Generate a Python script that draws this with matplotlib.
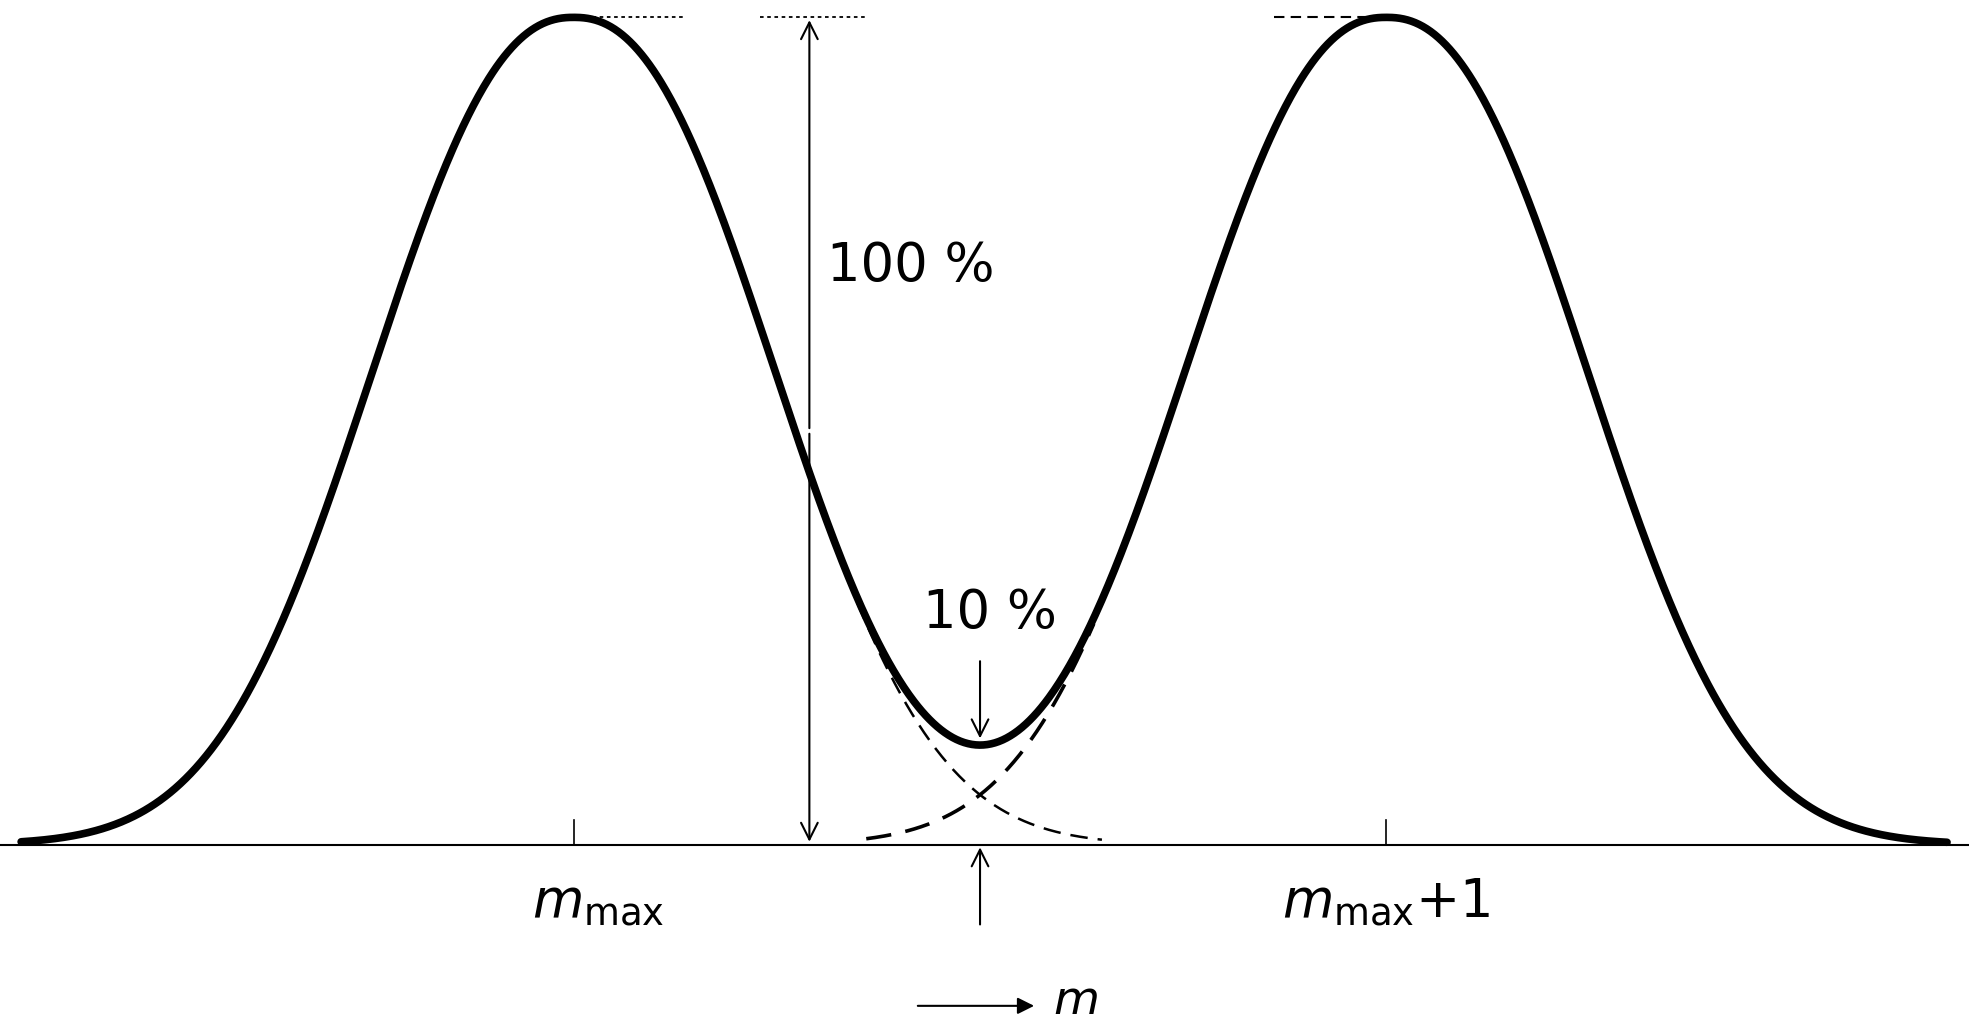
import numpy as np
import matplotlib
matplotlib.use("Agg")
import matplotlib.pyplot as plt

# Diagram parameters (in units of m, peak height = 1)
peak_centers = [0.0, 1.0]
peak_width = 0.319
peak_power = 2.3
tick_labels = [r"$m_{\rm max}$", r"$m_{\rm max}$+1"]
valley_label = "10 %"
full_label = "100 %"

plt.rcParams['font.family'] = ['DejaVu Sans']
plt.rcParams['mathtext.fontset'] = 'dejavusans'
fig = plt.figure(figsize=(19.69, 10.29), dpi=100)
ax = fig.add_axes([0, 0, 1, 1])
ax.set_xlim(-0.706, 1.717)
ax.set_ylim(-0.223, 1.021)
ax.axis('off')

def g(x, c):
    return np.exp(-np.abs((x - c) / peak_width) ** peak_power)

x = np.linspace(-0.68, 1.69, 1500)
ax.plot(x, g(x, 0) + g(x, 1), color='black', lw=5.5, solid_capstyle='round')
xl = np.linspace(0.29, 0.65, 200)
ax.plot(xl, g(xl, 0), color='black', lw=1.8, dashes=(7, 4))
xr = np.linspace(0.36, 0.64, 200)
ax.plot(xr, g(xr, 1), color='black', lw=2.6, dashes=(7, 4))

ax.plot([-0.706, 1.717], [0, 0], color='black', lw=1.5)
for c in peak_centers:
    ax.plot([c, c], [0, 0.03], color='black', lw=1.2)

ax.plot([0.005, 0.136], [1, 1], color='black', lw=1.3, ls=(0, (2, 2)))
ax.plot([0.229, 0.36], [1, 1], color='black', lw=1.3, ls=(0, (2, 2)))
ax.plot([0.862, 0.994], [1, 1], color='black', lw=1.5, ls=(0, (5, 3)))

arr = dict(arrowstyle='->', color='black', lw=1.5, mutation_scale=30)
ax.annotate('', xy=(0.29, 1.0), xytext=(0.29, 0.5), arrowprops=arr)
ax.annotate('', xy=(0.29, 0.0), xytext=(0.29, 0.5), arrowprops=arr)
ax.annotate('', xy=(0.5, 0.125), xytext=(0.5, 0.225), arrowprops=arr)
ax.annotate('', xy=(0.5, 0.0), xytext=(0.5, -0.1), arrowprops=arr)

ax.text(0.312, 0.70, full_label, fontsize=38, ha='left', va='center')
ax.text(0.43, 0.28, valley_label, fontsize=38, ha='left', va='center')
ax.text(0.03, -0.07, tick_labels[0], fontsize=38, ha='center', va='center')
ax.text(1.0, -0.07, tick_labels[1], fontsize=38, ha='center', va='center')
ax.annotate('', xy=(0.57, -0.195), xytext=(0.42, -0.195),
            arrowprops=dict(arrowstyle='-|>', color='black', lw=1.5, mutation_scale=25))
ax.text(0.59, -0.19, r"$m$", fontsize=34, ha='left', va='center')

fig.savefig('out.png', dpi=100)
